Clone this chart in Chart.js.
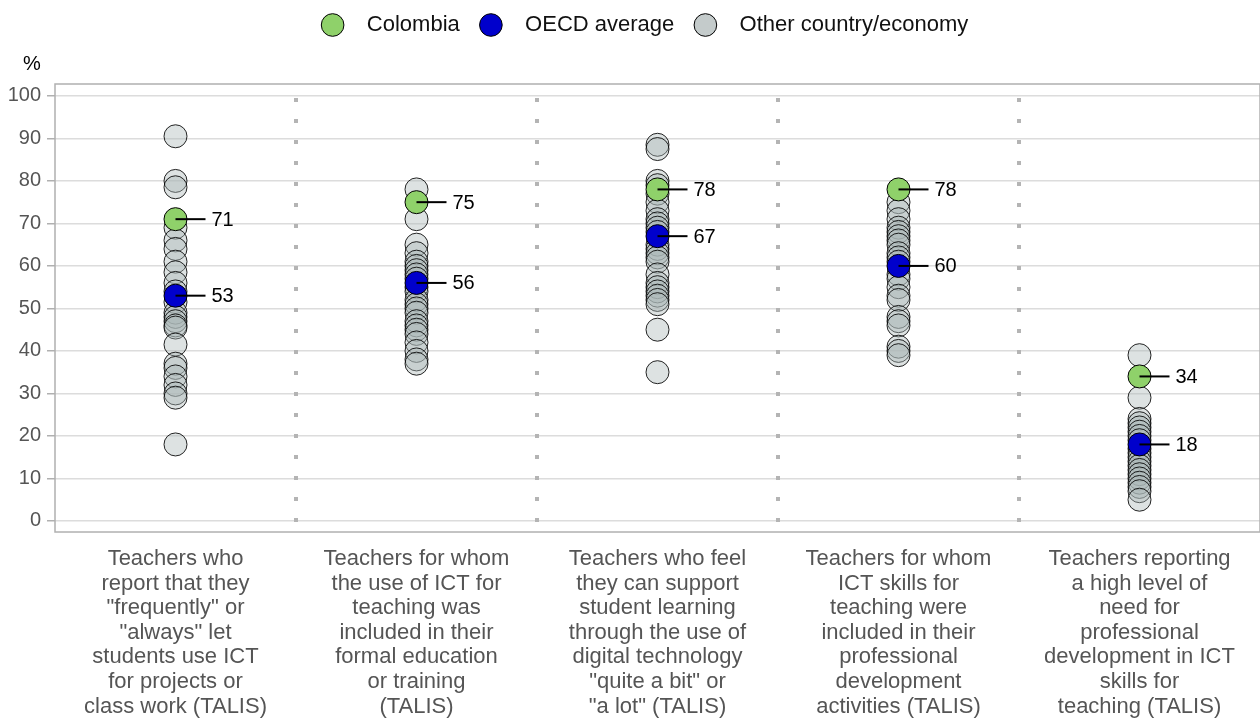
<!DOCTYPE html>
<html>
<head>
<meta charset="utf-8">
<script src="https://cdn.jsdelivr.net/npm/chart.js@4.4.1/dist/chart.umd.min.js"></script>
<style>
  html, body { margin: 0; padding: 0; background: #fff; overflow: hidden; }
  #wrap { width: 1260px; height: 718px; }
  canvas { display: block; }
</style>
</head>
<body>
<div id="wrap"><canvas id="my-chart"></canvas></div>
<script>
// categories (x axis labels, one line per array item)
const categories = [
  ['Teachers who', 'report that they', '"frequently" or', '"always" let', 'students use ICT', 'for projects or', 'class work (TALIS)'],
  ['Teachers for whom', 'the use of ICT for', 'teaching was', 'included in their', 'formal education', 'or training', '(TALIS)'],
  ['Teachers who feel', 'they can support', 'student learning', 'through the use of', 'digital technology', '"quite a bit" or', '"a lot" (TALIS)'],
  ['Teachers for whom', 'ICT skills for', 'teaching were', 'included in their', 'professional', 'development', 'activities (TALIS)'],
  ['Teachers reporting', 'a high level of', 'need for', 'professional', 'development in ICT', 'skills for', 'teaching (TALIS)']
];

const colombia = [71, 75, 78, 78, 34];
const oecd = [53, 56, 67, 60, 18];

// other countries/economies, one list per category
const others1 = [90.5, 80, 78.5, 69, 66, 64, 61, 58.5, 56, 54, 51.5, 49, 48, 47, 46, 45.5, 41.5, 37, 36, 34, 32, 30, 29, 18];
const others2 = [78, 71, 65, 63, 61, 60, 59, 58, 57, 55, 54, 52, 51, 50, 49, 47, 46, 45, 44, 42, 40, 38, 37];
const others3 = [88.5, 87.5, 80, 79, 77, 75, 73, 71, 70, 69, 68, 65, 64, 63, 62, 61, 58, 56, 55, 54, 53, 52, 51, 45, 35];
const others4 = [75, 73, 71, 69, 68, 67, 66, 65, 63, 62, 61, 58, 57, 55, 53, 52, 48, 47, 46, 41, 40, 39];
const others5 = [39, 29, 24, 23, 22, 21, 20, 19, 17, 16, 15, 14, 13, 12, 11, 10, 9, 8, 7, 5];
const othersAll = [others1, others2, others3, others4, others5];

const yTicks = [0, 10, 20, 30, 40, 50, 60, 70, 80, 90, 100];

const FONT = 'Arial, "Liberation Sans", sans-serif';

const otherPoints = [];
othersAll.forEach((list, i) => list.forEach(v => otherPoints.push({ x: i + 0.5, y: v })));

const colombiaPoints = colombia.map((v, i) => ({ x: i + 0.5, y: v }));
const oecdPoints = oecd.map((v, i) => ({ x: i + 0.5, y: v }));

// taller legend box so the plot starts lower, legend nudged a bit right
const legendSpace = {
  id: 'legendSpace',
  beforeInit(chart) {
    const legend = chart.legend;
    const origFit = legend.fit;
    legend.fit = function () {
      origFit.call(this);
      this.height += 38;
    };
    const origDraw = legend.draw;
    legend.draw = function () {
      const c = this.ctx;
      c.save();
      c.translate(18, 0);
      origDraw.call(this);
      c.restore();
    };
  }
};

// separators, frame, "%" and value labels
const extras = {
  id: 'extras',
  beforeDatasetsDraw(chart) {
    const { ctx, chartArea, scales } = chart;
    ctx.save();
    ctx.strokeStyle = '#b4b4b4';
    ctx.lineWidth = 4;
    ctx.setLineDash([4, 17]);
    for (let i = 1; i < categories.length; i++) {
      const x = Math.round(scales.x.getPixelForValue(i));
      ctx.beginPath();
      ctx.moveTo(x, scales.y.getPixelForValue(100) + 2);
      ctx.lineTo(x, chartArea.bottom);
      ctx.stroke();
    }
    ctx.setLineDash([]);
    ctx.lineWidth = 1.5;
    ctx.strokeStyle = '#b0b0b0';
    ctx.strokeRect(chartArea.left, chartArea.top, chartArea.right - chartArea.left, chartArea.bottom - chartArea.top);
    ctx.fillStyle = '#000';
    ctx.font = '20px ' + FONT;
    ctx.textAlign = 'center';
    ctx.textBaseline = 'middle';
    ctx.fillText('%', 32, chartArea.top - 20);
    ctx.restore();
  },
  afterDatasetsDraw(chart) {
    const { ctx, scales } = chart;
    ctx.save();
    ctx.font = '20px ' + FONT;
    ctx.fillStyle = '#000';
    ctx.strokeStyle = '#000';
    ctx.lineWidth = 2;
    ctx.textBaseline = 'middle';
    ctx.textAlign = 'left';
    [colombiaPoints, oecdPoints].forEach(pts => {
      pts.forEach(p => {
        const x = scales.x.getPixelForValue(p.x);
        const y = scales.y.getPixelForValue(p.y);
        ctx.beginPath();
        ctx.moveTo(x, y);
        ctx.lineTo(x + 30, y);
        ctx.stroke();
        ctx.fillText(Math.round(p.y), x + 36, y + 1);
      });
    });
    ctx.restore();
  }
};

const ctx = document.getElementById('my-chart').getContext('2d');
const chart = new Chart(ctx, {
  type: 'scatter',
  data: {
    datasets: [
      {
        label: 'Colombia',
        data: colombiaPoints,
        backgroundColor: '#8fd16a',
        borderColor: '#000',
        borderWidth: 1,
        pointRadius: 11.5,
        order: 0
      },
      {
        label: 'OECD average',
        data: oecdPoints,
        backgroundColor: '#0000cc',
        borderColor: '#000',
        borderWidth: 1,
        pointRadius: 11.5,
        order: 1
      },
      {
        label: 'Other country/economy',
        data: otherPoints,
        backgroundColor: 'rgba(170, 182, 182, 0.4)',
        borderColor: 'rgba(0, 0, 0, 0.85)',
        borderWidth: 1,
        pointRadius: 11.5,
        order: 2
      }
    ]
  },
  options: {
    responsive: true,
    maintainAspectRatio: false,
    animation: false,
    events: [],
    layout: { autoPadding: false, padding: { top: 0, right: 0, left: 0, bottom: 0 } },
    plugins: {
      tooltip: { enabled: false },
      legend: {
        position: 'top',
        labels: {
          usePointStyle: true,
          pointStyle: 'circle',
          boxHeight: 16,
          color: '#111',
          font: { family: FONT, size: 22 },
          padding: 14,
          generateLabels(chart) {
            const items = Chart.defaults.plugins.legend.labels.generateLabels(chart);
            items.forEach(it => {
              it.text = '  ' + it.text + ' ';
              it.fillStyle = it.datasetIndex === 2 ? '#c4cbcb' : it.fillStyle;
              it.strokeStyle = '#000';
              it.lineWidth = 1;
            });
            return items;
          }
        }
      }
    },
    scales: {
      x: {
        type: 'linear',
        min: 0,
        max: 5,
        afterBuildTicks(axis) {
          axis.ticks = categories.map((c, i) => ({ value: i + 0.5 }));
        },
        afterFit(axis) {
          axis.paddingLeft = 0;
          axis.paddingRight = 0;
          axis.height = 186;
        },
        ticks: {
          autoSkip: false,
          maxRotation: 0,
          color: '#555',
          font: { family: FONT, size: 22, lineHeight: 1.115 },
          padding: 15,
          callback(value) {
            const i = Math.floor(value);
            return categories[i] || '';
          }
        },
        grid: { display: false, drawTicks: false },
        border: { display: false }
      },
      y: {
        min: -2.6,
        max: 102.8,
        afterBuildTicks(axis) {
          axis.ticks = yTicks.map(v => ({ value: v }));
        },
        afterFit(axis) {
          axis.width = 55;
        },
        ticks: {
          color: '#555',
          font: { family: FONT, size: 20 },
          padding: 6
        },
        grid: {
          color: '#dcdcdc',
          lineWidth: 1.5,
          tickLength: 8,
          tickColor: '#b0b0b0'
        },
        border: { display: false }
      }
    }
  },
  plugins: [legendSpace, extras]
});
</script>
</body>
</html>
